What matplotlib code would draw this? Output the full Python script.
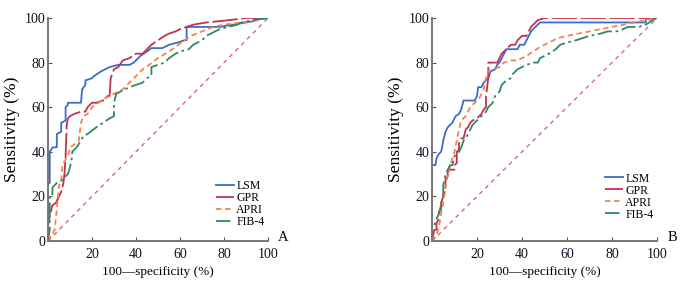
import matplotlib
matplotlib.use("Agg")
import matplotlib.pyplot as plt

plt.rcParams['font.family'] = ['Liberation Serif', 'DejaVu Serif']

# ---------------- Panel A data ----------------
lsm_a_x = [0, 0, 0.8, 0.8, 1.5, 2, 4, 4, 6, 6, 8, 8, 9, 9, 15, 15.5, 17, 17, 20, 21, 24, 28, 32, 37, 39, 42, 45, 47, 52, 55, 59, 62, 63, 63, 78, 84, 93, 97, 100]
lsm_a_y = [0, 26, 26, 40, 41, 42, 42, 48, 49, 53, 54, 60, 61, 62, 62, 68, 70, 72, 73, 74, 76, 78, 79, 79, 80, 83, 85, 86.5, 86.5, 88, 89, 90, 90, 96, 96, 97, 98.5, 100, 100]

gpr_a_x = [0, 0, 1, 2, 3.5, 5, 6, 7, 7.5, 8, 8.5, 9, 10, 12, 15, 17, 18, 20, 22, 25, 27, 28, 28.5, 30, 32, 34, 37, 40, 43, 45, 47, 50, 53, 55, 58, 60, 63, 66, 72, 82, 90, 100]
gpr_a_y = [0, 7, 12, 16, 17, 20, 22, 26, 30, 38, 52, 55, 56, 57, 58, 58, 60, 62, 62, 63, 65, 65, 73, 77, 78, 81, 82, 84, 84, 86, 88, 90, 92, 93, 94, 95, 96, 97, 98, 99, 100, 100]

apri_a_x = [0, 2, 3, 4, 5, 6, 6.5, 7, 9, 10, 13, 14, 15, 16, 18, 20, 23, 26, 30, 34, 37, 40, 43, 46, 50, 55, 58, 62, 65, 70, 75, 80, 88, 95, 100]
apri_a_y = [0, 3, 5, 14, 25, 26, 33, 35, 38, 42, 44, 45, 53, 56, 57, 60, 62, 64, 66, 68, 71, 74, 77, 79, 82, 85, 87, 90, 92, 94, 96, 97, 98, 99, 100]

fib4_a_x = [0, 0.8, 0.8, 2, 2, 4, 6, 7, 9, 10, 11, 11, 13, 15, 16, 18, 22, 25, 28, 30, 30, 31, 33, 35, 37, 40, 43, 45, 47, 47, 50, 53, 55, 58, 60, 64, 66, 70, 72, 78, 82, 86, 88, 93, 100]
fib4_a_y = [0, 5, 21, 21, 24, 26, 27, 28, 30, 33, 38, 40, 42, 45, 47, 48, 51, 53, 55, 56, 62, 66, 67, 68, 69, 70, 71, 73, 74, 78, 79, 80, 82, 84, 85, 86, 88, 90, 92, 95, 96, 97, 98, 99, 100]

# ---------------- Panel B data ----------------
lsm_b_x = [0, 0, 1.5, 2, 3, 4, 4.5, 5, 5.5, 6, 7, 8, 9, 10, 10.5, 12, 13, 13.5, 14, 19, 20, 20.5, 22, 23, 24, 25, 26, 28, 29, 30, 31, 32, 33, 38, 39, 41, 42, 43, 44, 45, 46, 47, 48, 50, 95, 95, 100]
lsm_b_y = [0, 34, 34, 37, 39, 40, 42, 45, 47, 49, 51, 52, 53, 55, 56, 57, 59, 61, 63, 63, 65, 69, 69, 71, 72, 73, 76, 77, 79, 80, 82, 84, 86, 86, 88, 88, 90, 92, 94, 95, 96, 97, 98, 98, 98, 100, 100]

gpr_b_x = [0, 1, 2, 2, 3, 3, 4, 4, 5, 6, 6, 7, 7, 8, 10, 10, 11, 11, 12, 12, 13, 14, 15, 16, 17, 18, 20, 21, 22, 23, 24, 24, 25, 25, 29, 30, 31, 33, 34, 35, 37, 38, 40, 42, 43, 44, 45, 47, 50, 100]
gpr_b_y = [0, 5, 5, 8, 10, 13, 14, 17, 20, 23, 28, 29, 31, 32, 32, 34, 35, 40, 41, 44, 46, 46, 50, 51, 53, 54, 55, 56, 57, 59, 60, 65, 73, 80, 80, 82, 84, 86, 87, 88, 88, 90, 92, 92, 94, 96, 97, 99, 100, 100]

apri_b_x = [0, 1, 2, 3, 4, 5, 6, 7, 8, 9, 10, 11, 12, 13, 15, 16, 17, 19, 21, 23, 24, 25, 27, 30, 32, 35, 38, 40, 42, 45, 48, 52, 56, 60, 65, 70, 75, 80, 85, 90, 95, 100]
apri_b_y = [0, 1, 3, 6, 12, 17, 24, 30, 33, 37, 40, 45, 50, 54, 56, 58, 60, 62, 64, 68, 73, 76, 77, 78, 80, 81, 81, 82, 83, 85, 87, 89, 91, 92, 93, 94, 95, 96, 97, 98, 99, 100]

fib4_b_x = [0, 0, 1, 2, 3, 4, 5, 5, 6, 7, 8, 9, 10, 12, 13, 14, 15, 16, 17, 18, 20, 22, 24, 25, 27, 28, 30, 31, 33, 35, 36, 38, 40, 42, 45, 47, 48, 50, 52, 55, 57, 60, 64, 67, 70, 75, 78, 82, 85, 87, 92, 95, 98, 100]
fib4_b_y = [0, 7, 7, 10, 12, 16, 21, 25, 30, 32, 34, 34, 38, 40, 42, 45, 46, 48, 50, 52, 54, 56, 58, 60, 62, 65, 67, 70, 72, 73, 75, 77, 78, 79, 80, 80, 82, 83, 84, 86, 88, 89, 90, 91, 92, 93, 94, 94, 95, 96, 96, 97, 99, 100]

series_names = ["LSM", "GPR", "APRI", "FIB-4"]
tick_vals = [0, 20, 40, 60, 80, 100]
tick_labels_x = ["", "20", "40", "60", "80", "100"]
tick_labels_y = ["0", "20", "40", "60", "80", "100"]
ref_line = [0, 100]

colors = ["#3b6cc7", "#c4314f", "#f4824e", "#2f8a62"]
styles = ["-", (0, (14, 2)), (0, (3, 2)), (0, (8, 2, 1.5, 2))]

fig = plt.figure(figsize=(6.81, 2.84), dpi=100)
axA = fig.add_axes([48/681, 1-241/284, 220/681, 223/284])
axB = fig.add_axes([432/681, 1-241/284, 225/681, 223/284])

panels = [
    (axA, [(lsm_a_x, lsm_a_y), (gpr_a_x, gpr_a_y), (apri_a_x, apri_a_y), (fib4_a_x, fib4_a_y)], "A", 0.03),
    (axB, [(lsm_b_x, lsm_b_y), (gpr_b_x, gpr_b_y), (apri_b_x, apri_b_y), (fib4_b_x, fib4_b_y)], "B", 0.065),
]

for ax, data, letter, leg_y in panels:
    ax.plot(ref_line, ref_line, color="#d9677a", lw=1.0, ls=(0, (3, 3)))
    for (x, y), name, c, s in zip(data, series_names, colors, styles):
        ax.plot(x, y, color=c, lw=1.3, ls=s, label=name)
    ax.set_xlim(0, 100)
    ax.set_ylim(0, 100)
    for sp in ["top", "right"]:
        ax.spines[sp].set_visible(False)
    for sp in ["left", "bottom"]:
        ax.spines[sp].set_color("#777777")
        ax.spines[sp].set_linewidth(1.4)
    ax.set_xticks(tick_vals)
    ax.set_xticklabels(tick_labels_x)
    ax.set_yticks(tick_vals)
    ax.set_yticklabels(tick_labels_y)
    ax.tick_params(direction="in", length=3, width=0.8, color="#555555",
                   labelsize=10, labelcolor="#111122")
    ax.tick_params(axis="x", pad=5)
    ax.tick_params(axis="y", pad=2)
    ax.set_xlabel("100\u2014specificity (%)", fontsize=9.5, labelpad=4)
    ax.set_ylabel("Sensitivity (%)", fontsize=12.5, labelpad=3)
    ax.text(1.045, 0.015, letter, transform=ax.transAxes, fontsize=10.5, ha="left", va="center")
    leg = ax.legend(loc="lower right", bbox_to_anchor=(1.01, leg_y), frameon=False,
                    fontsize=8.5, handlelength=1.6, handletextpad=0.15,
                    labelspacing=0.0, borderpad=0)
    ax.patch.set_alpha(0)

fig.savefig("out.png", dpi=100)
